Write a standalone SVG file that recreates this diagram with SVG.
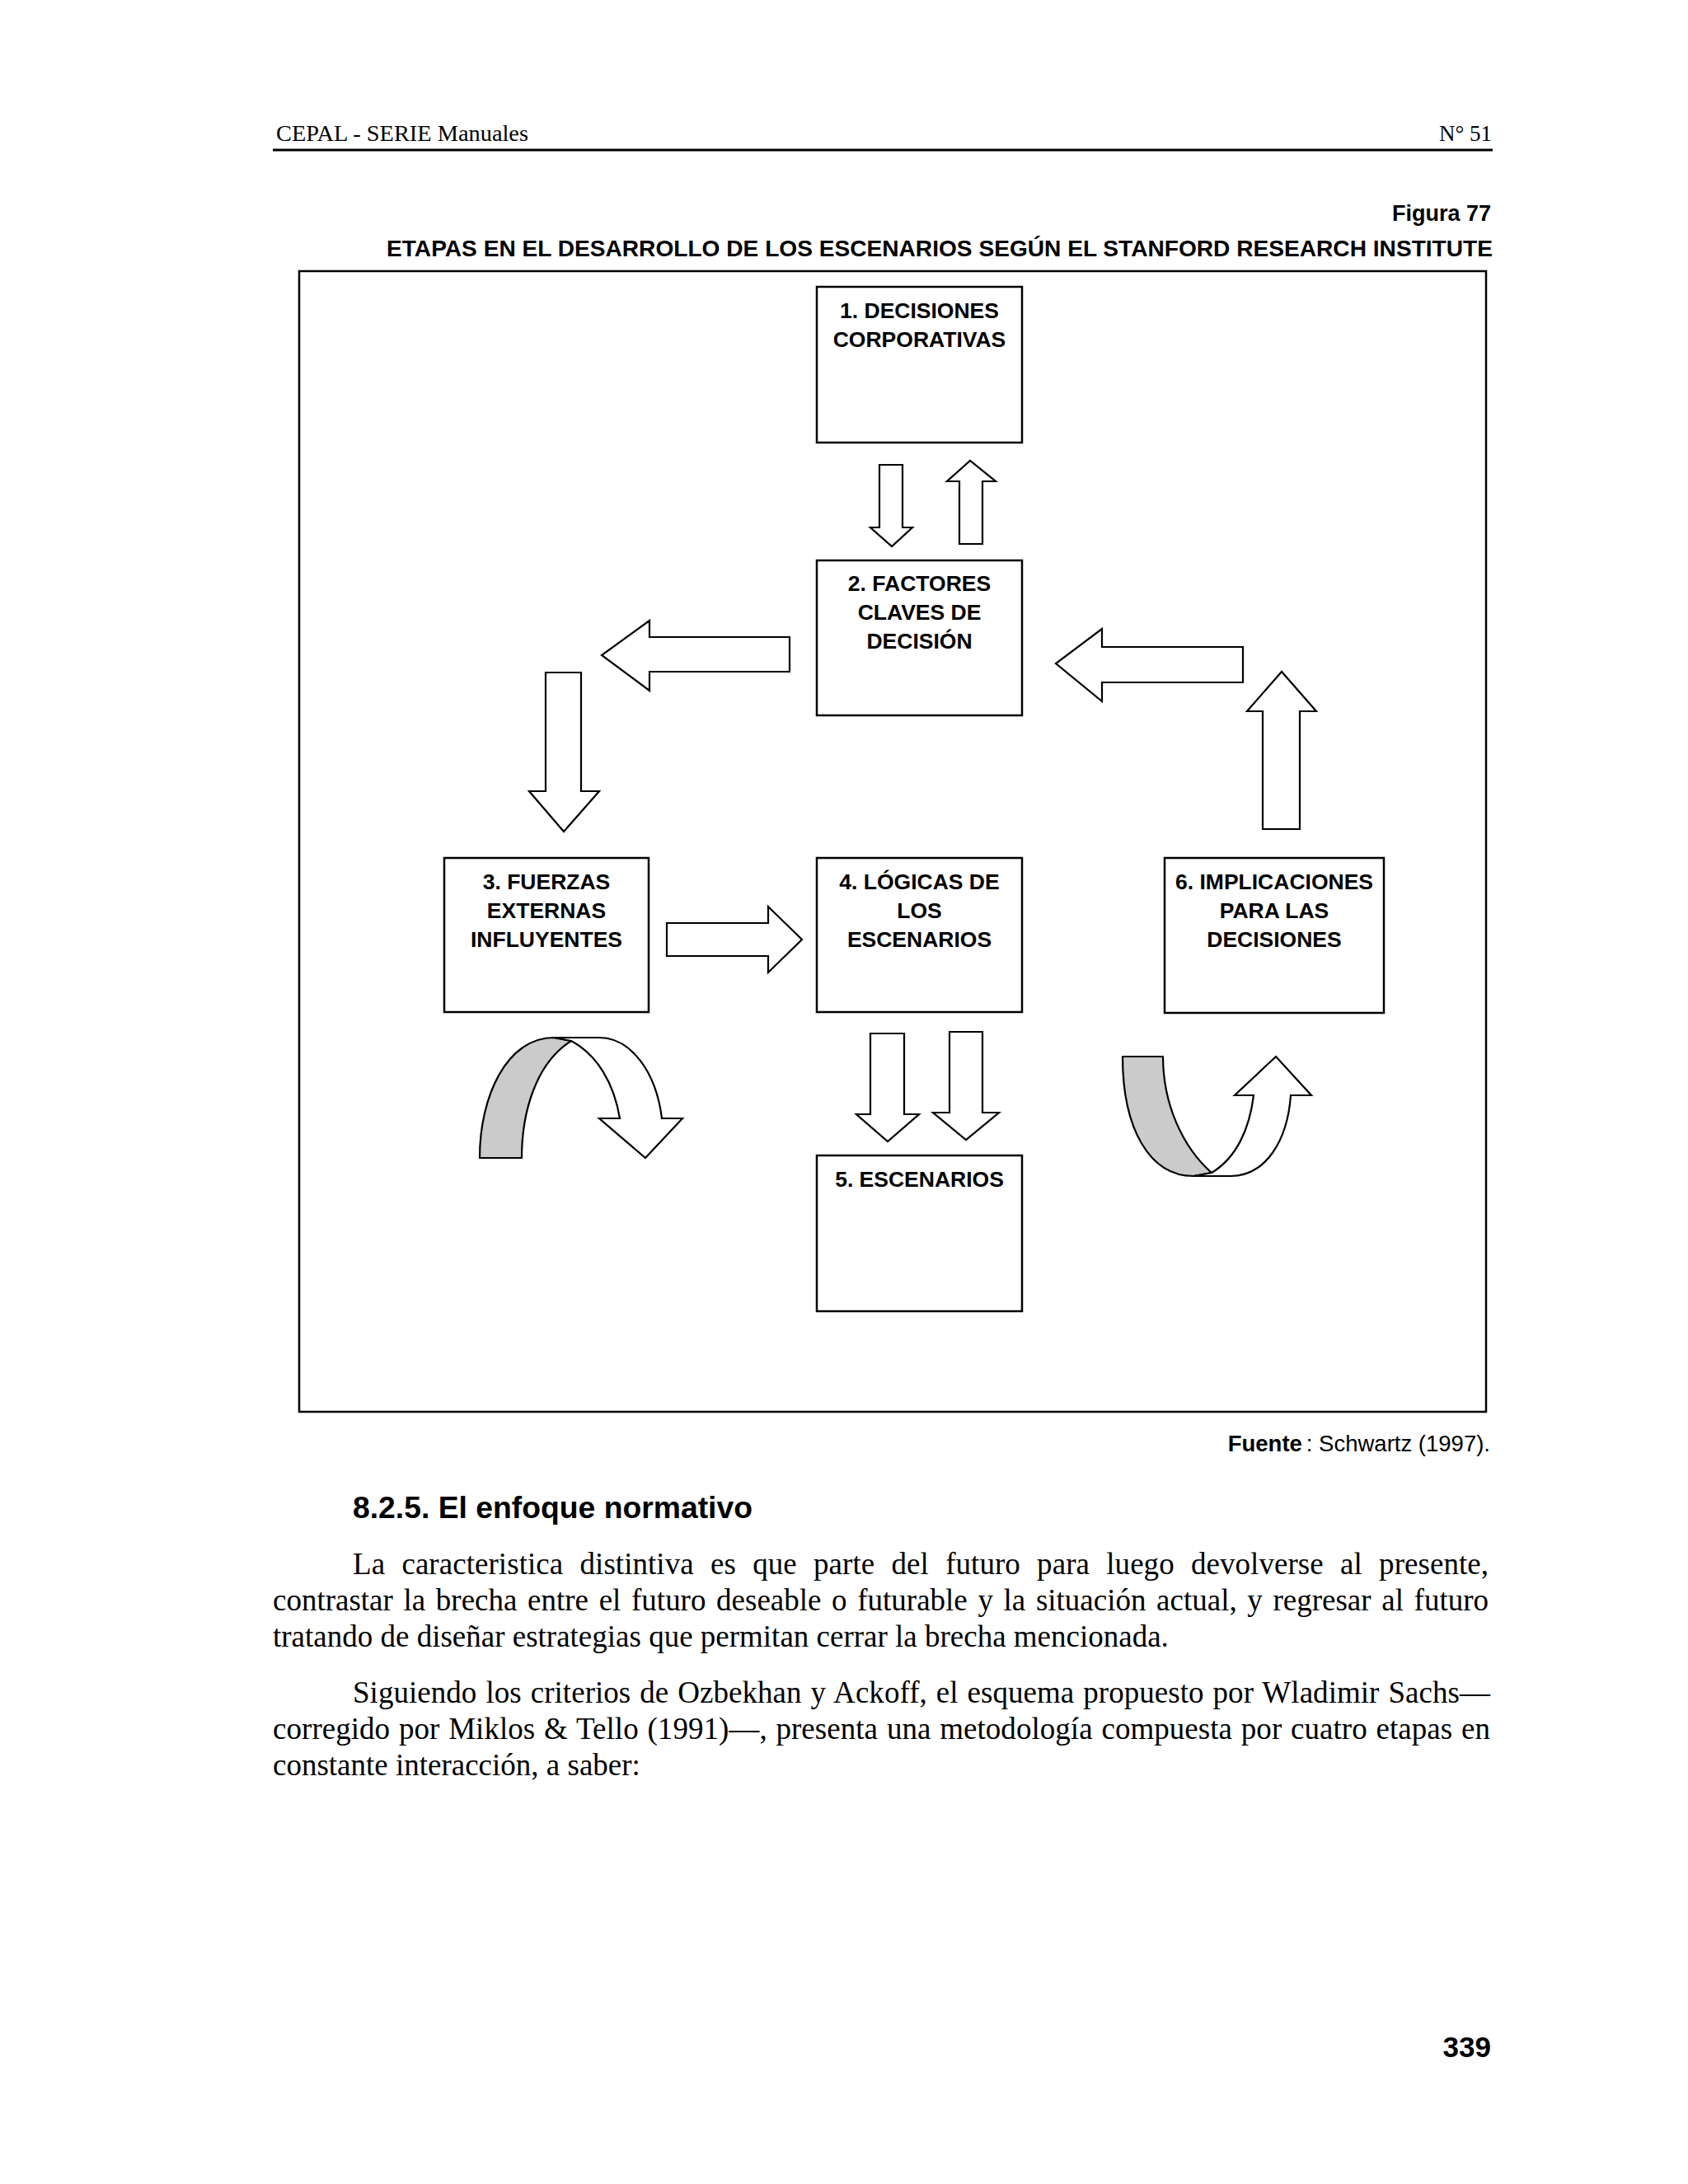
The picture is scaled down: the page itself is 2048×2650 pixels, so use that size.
<svg xmlns="http://www.w3.org/2000/svg" width="2048" height="2650" viewBox="0 0 2048 2650">
<style>
.serif{font-family:"Liberation Serif","Times New Roman",serif;fill:#000}
.sans{font-family:"Liberation Sans",Arial,sans-serif;fill:#000}
.b{font-weight:bold}
.box{fill:#fff;stroke:#000;stroke-width:2.5}
.lbl{font-family:"Liberation Sans",Arial,sans-serif;font-weight:bold;font-size:26.5px;text-anchor:middle;fill:#000}
.arr{fill:#fff;stroke:#000;stroke-width:2.2;stroke-linejoin:miter}
.back{fill:#cbcbcb;stroke:#000;stroke-width:2.2;stroke-linejoin:round}
.body{font-family:"Liberation Serif","Times New Roman",serif;font-size:37px;fill:#000}
</style>
<rect width="2048" height="2650" fill="#fff"/>

<g id="page-header">
<text class="serif" x="335" y="171" font-size="27" textLength="306" lengthAdjust="spacingAndGlyphs">CEPAL - SERIE Manuales</text>
<text class="serif" x="1810" y="171" font-size="27" text-anchor="end">N° 51</text>
<line x1="331" y1="182" x2="1811" y2="182" stroke="#000" stroke-width="3"/>
</g>

<g id="figure-title">
<text class="sans b" x="1809" y="268" font-size="27" text-anchor="end">Figura 77</text>
<text class="sans b" x="469" y="311" font-size="28" textLength="1342" lengthAdjust="spacingAndGlyphs">ETAPAS EN EL DESARROLLO DE LOS ESCENARIOS SEGÚN EL STANFORD RESEARCH INSTITUTE</text>
</g>

<rect id="frame" x="363" y="329" width="1440" height="1384" fill="none" stroke="#000" stroke-width="2.5"/>

<g id="connectors">
<path id="a1-down" class="arr" d="M1067,564 L1095,564 L1095,640 L1107,640 L1082,663 L1056,640 L1067,640 Z"/>
<path id="a2-up" class="arr" d="M1164,660 L1192,660 L1192,584 L1208,584 L1177,559 L1149,584 L1164,584 Z"/>
<path id="a3-left" class="arr" d="M958,773 L958,815 L788,815 L788,838 L730,795 L788,753 L788,773 Z"/>
<path id="a4-down" class="arr" d="M662,816 L705,816 L705,960 L727,960 L684,1009 L642,960 L662,960 Z"/>
<path id="a5-right" class="arr" d="M809,1120 L932,1120 L932,1100 L973,1140 L932,1180 L932,1160 L809,1160 Z"/>
<path id="a6-up" class="arr" d="M1532,1006 L1577,1006 L1577,863 L1597,863 L1555,815 L1513,863 L1532,863 Z"/>
<path id="a7-left" class="arr" d="M1508,785 L1508,828 L1337,828 L1337,851 L1281,805 L1337,763 L1337,785 Z"/>
<path id="a8-down" class="arr" d="M1056,1254 L1097,1254 L1097,1352 L1115,1352 L1077,1385 L1039,1352 L1056,1352 Z"/>
<path id="a9-down" class="arr" d="M1152,1252 L1192,1252 L1192,1350 L1212,1350 L1172,1383 L1132,1350 L1152,1350 Z"/>
<g id="curved-left">
<path class="back" d="M582,1405 L633,1405 C633,1350 650,1290 693,1263 L672,1259 C615,1259 582,1330 582,1405 Z"/>
<path class="arr" d="M672,1259 L727,1259 C765,1259 796,1300 803,1357 L828,1357 L783,1405 L727,1357 L752,1357 C745,1315 725,1280 693,1263 Z"/>
</g>
<g id="curved-right">
<path class="back" d="M1362,1282 L1411,1282 C1411,1340 1435,1392 1470,1423 L1448,1427 C1395,1427 1362,1370 1362,1282 Z"/>
<path class="arr" d="M1448,1427 L1493,1427 C1535,1427 1562,1385 1566,1329 L1591,1329 L1548,1282 L1498,1329 L1521,1329 C1516,1370 1500,1405 1470,1423 Z"/>
</g>
</g>

<g id="node1">
<rect class="box" x="991" y="348" width="249" height="189"/>
<text class="lbl" x="1115.5" y="386">1. DECISIONES</text>
<text class="lbl" x="1115.5" y="421">CORPORATIVAS</text>
</g>
<g id="node2">
<rect class="box" x="991" y="680" width="249" height="188"/>
<text class="lbl" x="1115.5" y="717">2. FACTORES</text>
<text class="lbl" x="1115.5" y="752">CLAVES DE</text>
<text class="lbl" x="1115.5" y="787">DECISIÓN</text>
</g>
<g id="node3">
<rect class="box" x="539" y="1041" width="248" height="187"/>
<text class="lbl" x="663" y="1079">3. FUERZAS</text>
<text class="lbl" x="663" y="1114">EXTERNAS</text>
<text class="lbl" x="663" y="1149">INFLUYENTES</text>
</g>
<g id="node4">
<rect class="box" x="991" y="1041" width="249" height="187"/>
<text class="lbl" x="1115.5" y="1079">4. LÓGICAS DE</text>
<text class="lbl" x="1115.5" y="1114">LOS</text>
<text class="lbl" x="1115.5" y="1149">ESCENARIOS</text>
</g>
<g id="node5">
<rect class="box" x="991" y="1402" width="249" height="189"/>
<text class="lbl" x="1115.5" y="1440">5. ESCENARIOS</text>
</g>
<g id="node6">
<rect class="box" x="1413" y="1041" width="266" height="188"/>
<text class="lbl" x="1546" y="1079">6. IMPLICACIONES</text>
<text class="lbl" x="1546" y="1114">PARA LAS</text>
<text class="lbl" x="1546" y="1149">DECISIONES</text>
</g>

<g id="source">
<text class="sans" x="1808" y="1761" font-size="27.5" text-anchor="end"><tspan font-weight="bold">Fuente</tspan><tspan dx="5">:</tspan> Schwartz (1997).</text>
</g>

<g id="body-text">
<text class="sans b" x="428" y="1842" font-size="37.3">8.2.5. El enfoque normativo</text>
<text class="body" x="428" y="1910" word-spacing="11" textLength="1378" lengthAdjust="spacing">La caracteristica distintiva es que parte del futuro para luego devolverse al presente,</text>
<text class="body" x="331" y="1954" word-spacing="3.4" textLength="1475" lengthAdjust="spacing">contrastar la brecha entre el futuro deseable o futurable y la situación actual, y regresar al futuro</text>
<text class="body" x="331" y="1998">tratando de diseñar estrategias que permitan cerrar la brecha mencionada.</text>
<text class="body" x="428" y="2066" word-spacing="1.7" textLength="1380" lengthAdjust="spacing">Siguiendo los criterios de Ozbekhan y Ackoff, el esquema propuesto por Wladimir Sachs—</text>
<text class="body" x="331" y="2110" word-spacing="1.5" textLength="1477" lengthAdjust="spacing">corregido por Miklos &amp; Tello (1991)—, presenta una metodología compuesta por cuatro etapas en</text>
<text class="body" x="331" y="2154">constante interacción, a saber:</text>
</g>

<text id="page-number" class="sans b" x="1809" y="2496" font-size="35" text-anchor="end">339</text>
</svg>
